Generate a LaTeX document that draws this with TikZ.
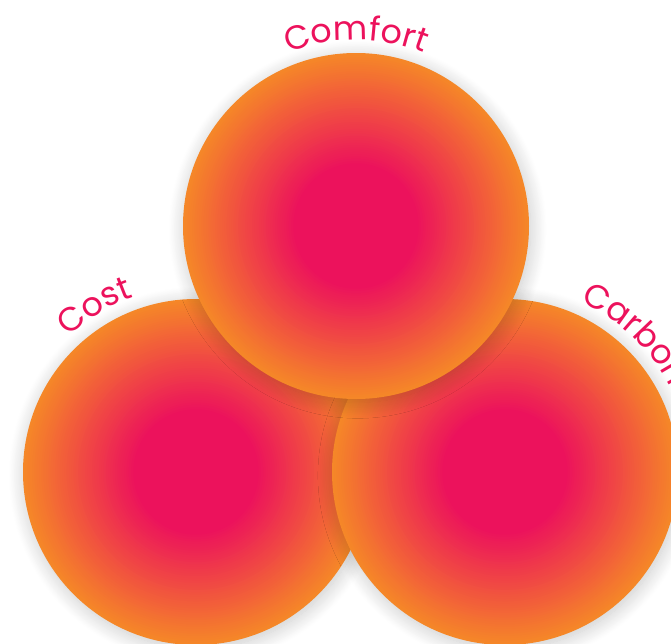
\documentclass[tikz,border=0pt]{standalone}
\usepackage{fontspec}
\usetikzlibrary{shadows.blur,decorations.text}
\newfontfamily\labelfont{Poppins}
\definecolor{ballpink}{RGB}{236,18,92}
\definecolor{ballorange}{RGB}{245,135,40}
\tikzset{
  ball/.style={circle, minimum size=6.92cm, inner sep=0pt, fill=ballorange,
    blur shadow={shadow xshift=1pt, shadow yshift=-2pt, shadow blur radius=9pt,
      shadow blur steps=25, shadow opacity=22}},
  arclabel/.style={decorate, decoration={text along path, text align=center,
    text={|\labelfont\fontsize{19}{23}\selectfont\color{ballpink}|#1}}}
}
% radial glow inside a ball, orange rim to pink core
\newcommand\ballglow[1]{%
  \foreach \k in {1,...,48}{
    \pgfmathtruncatemacro\p{\k*100/48}
    \fill[ballpink!\p!ballorange] (#1.center) circle ({3.46-\k*0.046});
  }}
\begin{document}
\begin{tikzpicture}
\clip (0,0) rectangle (13.42,12.86);
\node[ball] (cost) at (3.92,3.42) {};
\ballglow{cost}
\node[ball] (carbon) at (10.10,3.42) {};
\ballglow{carbon}
\node[ball] (comfort) at (7.12,8.34) {};
\ballglow{comfort}
\path[arclabel={Comfort}] ([shift={(120:3.72)}]comfort.center) arc[start angle=120, end angle=60, radius=3.72];
\path[arclabel={Cost}] ([shift={(145:3.72)}]cost.center) arc[start angle=145, end angle=98, radius=3.72];
\path[decorate, decoration={text along path, text align=left,
    text={|\labelfont\fontsize{19}{23}\selectfont\color{ballpink}|Carbon}}]
  ([shift={(66:3.72)}]carbon.center) arc[start angle=66, end angle=0, radius=3.72];
\end{tikzpicture}
\end{document}
